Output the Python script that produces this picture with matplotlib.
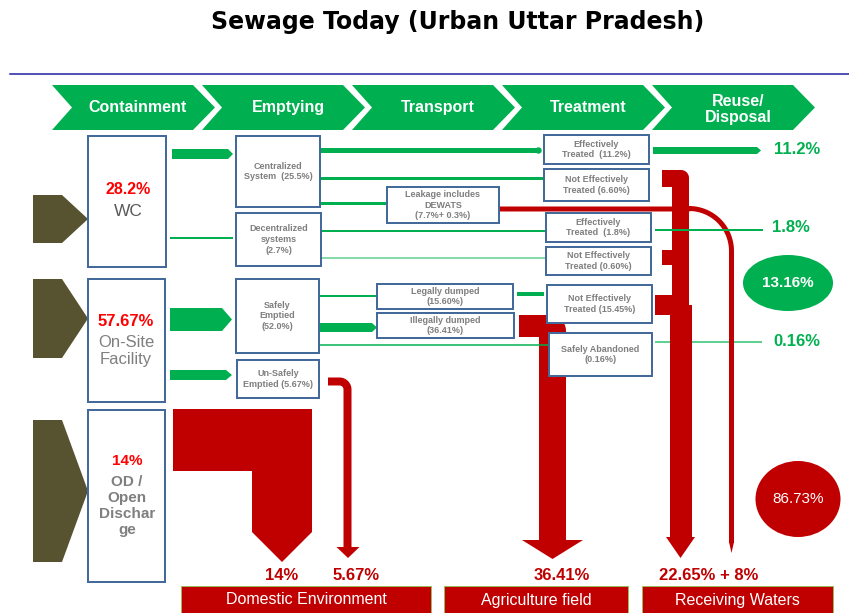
import numpy as np
import matplotlib
matplotlib.use("Agg")
import matplotlib.pyplot as plt
from matplotlib.patches import Polygon, Rectangle, Ellipse

# ---------------- data ----------------
title = "Sewage Today (Urban Uttar Pradesh)"
stages = ["Containment", "Emptying", "Transport", "Treatment", "Reuse/\nDisposal"]
containment_pct = ["28.2%", "57.67%", "14%"]
containment_names = ["WC", "On-Site\nFacility", "OD /\nOpen\nDischar\nge"]
emptying_labels = ["Centralized\nSystem  (25.5%)", "Decentralized\nsystems\n(2.7%)",
                   "Safely\nEmptied\n(52.0%)", "Un-Safely\nEmptied (5.67%)"]
transport_labels = ["Leakage includes\nDEWATS\n(7.7%+ 0.3%)", "Legally dumped\n(15.60%)",
                    "Illegally dumped\n(36.41%)"]
treatment_labels = ["Effectively\nTreated  (11.2%)", "Not Effectively\nTreated (6.60%)",
                    "Effectively\nTreated  (1.8%)", "Not Effectively\nTreated (0.60%)",
                    "Not Effectively\nTreated (15.45%)", "Safely Abandoned\n(0.16%)"]
reuse_labels = ["11.2%", "1.8%", "0.16%"]
safe_total = "13.16%"
unsafe_total = "86.73%"
outcome_values = ["14%", "5.67%", "36.41%", "22.65% + 8%"]
outcome_labels = ["Domestic Environment", "Agriculture field", "Receiving Waters"]

# ---------------- style ----------------
GREEN = "#00b050"
LGREEN = "#5fd08f"
RED = "#c00000"
BRED = "#ff0000"
EDGE = "#44699b"
OLIVE = "#57522f"
GREY = "#7f7f7f"
DGREY = "#595959"
PX = 0.72  # points per pixel at dpi 100

fig = plt.figure(figsize=(8.49, 6.13), dpi=100)
ax = fig.add_axes([0, 0, 1, 1])
ax.set_xlim(0, 849)
ax.set_ylim(613, 0)
ax.axis("off")

SANS = "Liberation Sans"


def poly(pts, color, z=2):
    ax.add_patch(Polygon(pts, closed=True, facecolor=color, edgecolor="none", zorder=z))


def arc(cx, cy, r, a0, a1, n=24):
    a = np.radians(np.linspace(a0, a1, n))
    return list(zip(cx + r * np.cos(a), cy + r * np.sin(a)))


def box(x0, y0, x1, y1, text, fs=6.5, color=GREY, weight="bold", z=5):
    ax.add_patch(Rectangle((x0, y0), x1 - x0, y1 - y0, facecolor="white",
                           edgecolor=EDGE, lw=2 * PX, zorder=z))
    if text:
        ax.text((x0 + x1) / 2, (y0 + y1) / 2, text, ha="center", va="center",
                fontsize=fs, color=color, weight=weight, family=SANS,
                linespacing=1.25, zorder=z + 1)


def hline(x0, x1, y, w, color=GREEN, z=3):
    ax.plot([x0, x1], [y, y], color=color, lw=w * PX, solid_capstyle="butt", zorder=z)


def block_arrow(x0, x1, yc, h, tip, color=GREEN, z=3):
    poly([(x0, yc - h / 2), (x1 - tip, yc - h / 2), (x1, yc), (x1 - tip, yc + h / 2),
          (x0, yc + h / 2)], color, z)


# ---------------- title + rule ----------------
ax.text(458, 22, title, ha="center", va="center", fontsize=17, weight="bold",
        family="DejaVu Sans", color="black")
ax.plot([10, 849], [74, 74], color="#1c1c9c", lw=1.5 * PX)

# ---------------- chevrons ----------------
for i, s in enumerate(stages):
    L = 52 + 150 * i
    top, bot = 85, 130
    mid = (top + bot) / 2
    pts = [(L, top), (L + 141, top), (L + 163, mid), (L + 141, bot), (L, bot), (L + 20, mid)]
    poly(pts, GREEN, 2)
    ax.text(L + 86, mid + (2 if "\n" in s else 0), s, ha="center", va="center",
            fontsize=11.5, weight="bold", color="white", family=SANS, linespacing=1.05)

# ---------------- olive source arrows ----------------
for (y0, y1) in [(195, 243), (279, 358), (420, 562)]:
    m = (y0 + y1) / 2
    poly([(33, y0), (62, y0), (88, m), (62, y1), (33, y1)], OLIVE, 2)

# ---------------- containment boxes ----------------
cont_boxes = [(88, 136, 166, 267), (88, 279, 165, 402), (88, 410, 165, 582)]
for (x0, y0, x1, y1) in cont_boxes:
    box(x0, y0, x1, y1, "")
# WC
ax.text(128, 190, containment_pct[0], ha="center", va="center", fontsize=11.5,
        weight="bold", color=BRED, family=SANS, zorder=7)
ax.text(128, 212, containment_names[0], ha="center", va="center", fontsize=12.5,
        color=DGREY, family=SANS, zorder=7)
# On-site
ax.text(126, 322, containment_pct[1], ha="center", va="center", fontsize=12,
        weight="bold", color=BRED, family=SANS, zorder=7)
ax.text(126, 351, containment_names[1], ha="center", va="center", fontsize=12,
        color=GREY, family=SANS, linespacing=1.1, zorder=7)
# OD
ax.text(127, 461, containment_pct[2], ha="center", va="center", fontsize=11,
        weight="bold", color=BRED, family=SANS, zorder=7)
ax.text(127, 506, containment_names[2], ha="center", va="center", fontsize=11,
        weight="bold", color=GREY, family=SANS, linespacing=1.2, zorder=7)

# ---------------- emptying boxes ----------------
emp_boxes = [(236, 136, 320, 207), (236, 213, 321, 266), (236, 279, 319, 353), (237, 360, 319, 398)]
for b, t in zip(emp_boxes, emptying_labels):
    box(*b, t)

# ---------------- transport boxes ----------------
tr_boxes = [(387, 187, 499, 223), (377, 284, 513, 309), (377, 313, 514, 338)]
for b, t in zip(tr_boxes, transport_labels):
    box(*b, t)

# ---------------- red flows ----------------
# open discharge block
poly([(173, 409), (312, 409), (312, 532), (282, 562), (252, 532), (252, 471), (173, 471)], RED, 2)
# unsafely emptied arrow
path = [(328, 381.5), (339.5, 381.5)] + arc(339.5, 389.5, 8, -90, 0) + [(347.5, 548)]
xs, ys = zip(*path)
ax.plot(xs, ys, color=RED, lw=8 * PX, solid_capstyle="butt", solid_joinstyle="round", zorder=2)
poly([(336.5, 547), (359.5, 547), (348, 558)], RED, 2)
# illegally dumped -> agriculture
pts = [(519, 315), (550, 315)] + arc(550, 331, 16, -90, 0) + \
      [(566, 540), (583, 540), (552.5, 559), (522, 540), (539, 540), (539, 337), (519, 337)]
poly(pts, RED, 2)

# green line to safely abandoned (below red bar)
hline(655, 762, 342, 2, LGREEN, z=1)

# leakage line
path = [(499, 209), (689, 209)] + arc(689, 251, 42.5, -90, 0) + [(731.5, 543)]
xs, ys = zip(*path)
ax.plot(xs, ys, color=RED, lw=5 * PX, solid_capstyle="butt", zorder=2)
poly([(729, 542), (734, 542), (731.5, 553)], RED, 2)

# receiving waters bar
pts = [(662, 170), (681, 170)] + arc(681, 178, 8, -90, 0) + \
      [(689, 305), (692, 305), (692, 537), (695, 537), (680.5, 558), (666, 537), (670, 537),
       (670, 315), (655, 315), (655, 295), (672, 295), (672, 265), (662, 265), (662, 250),
       (672, 250), (672, 187), (662, 187)]
poly(pts, RED, 2)

# ---------------- green flows ----------------
block_arrow(172, 233, 154, 10, 5)           # WC -> centralized
hline(170, 233, 238, 2)                     # WC -> decentralized
block_arrow(170, 232, 319.5, 23, 10)        # on-site -> safely emptied
block_arrow(170, 232, 375, 10, 6)           # on-site -> unsafely emptied
hline(320, 538, 149.5, 5)                   # centralized -> effectively treated
ax.plot([538], [149.5], "o", ms=5 * PX, color=GREEN, zorder=3)
hline(320, 543, 177.5, 3)                   # centralized -> not effectively
hline(320, 387, 202.5, 3)                   # centralized -> leakage
hline(321, 546, 230.5, 2)                   # decentralized -> eff 1.8
hline(321, 546, 257.5, 1.5, LGREEN)         # decentralized -> not eff 0.60
hline(319, 377, 296, 2)                     # safely -> legally
block_arrow(319, 377, 327.5, 9, 5)          # safely -> illegally
hline(319, 549, 345, 1.5)                   # safely -> abandoned
hline(517, 544, 294, 4)                     # legally -> not eff 15.45
block_arrow(653, 761, 150.5, 7, 4)          # 11.2 out
hline(655, 763, 229.5, 2, GREEN, z=4)       # 1.8 out

# ---------------- treatment boxes ----------------
treat_boxes = [(544, 135, 649, 164), (544, 169, 649, 201), (546, 213, 651, 242),
               (546, 247, 651, 275), (547, 285, 652, 323), (549, 333, 652, 376)]
for b, t in zip(treat_boxes, treatment_labels):
    box(*b, t)

# ---------------- reuse labels ----------------
for t, y in zip(reuse_labels, [150, 228, 341]):
    ax.text(797 if t != "1.8%" else 791, y, t, ha="center", va="center", fontsize=12,
            weight="bold", color=GREEN, family=SANS)

ax.add_patch(Ellipse((788, 283), 90, 56, facecolor=GREEN, edgecolor="none", zorder=3))
ax.text(788, 283, safe_total, ha="center", va="center", fontsize=11, color="white",
        weight="bold", family=SANS, zorder=4)
ax.add_patch(Ellipse((798, 499), 85, 76, facecolor=RED, edgecolor="none", zorder=3))
ax.text(798, 499, unsafe_total, ha="center", va="center", fontsize=11, color="white",
        family=SANS, zorder=4)

# ---------------- outcomes ----------------
for t, x in zip(outcome_values, [282, 356, 562, 709]):
    ax.text(x, 575, t, ha="center", va="center", fontsize=12, weight="bold",
            color=RED, family=SANS)

for t, (x0, x1) in zip(outcome_labels, [(181, 431), (444, 628), (642, 833)]):
    ax.add_patch(Rectangle((x0, 586), x1 - x0, 40, facecolor=RED, edgecolor="#9bbb59",
                           lw=1 * PX, zorder=3))
    ax.text((x0 + x1) / 2, 600, t, ha="center", va="center", fontsize=11.5,
            color="white", family=SANS, zorder=4)

fig.savefig("out.png", dpi=100)
